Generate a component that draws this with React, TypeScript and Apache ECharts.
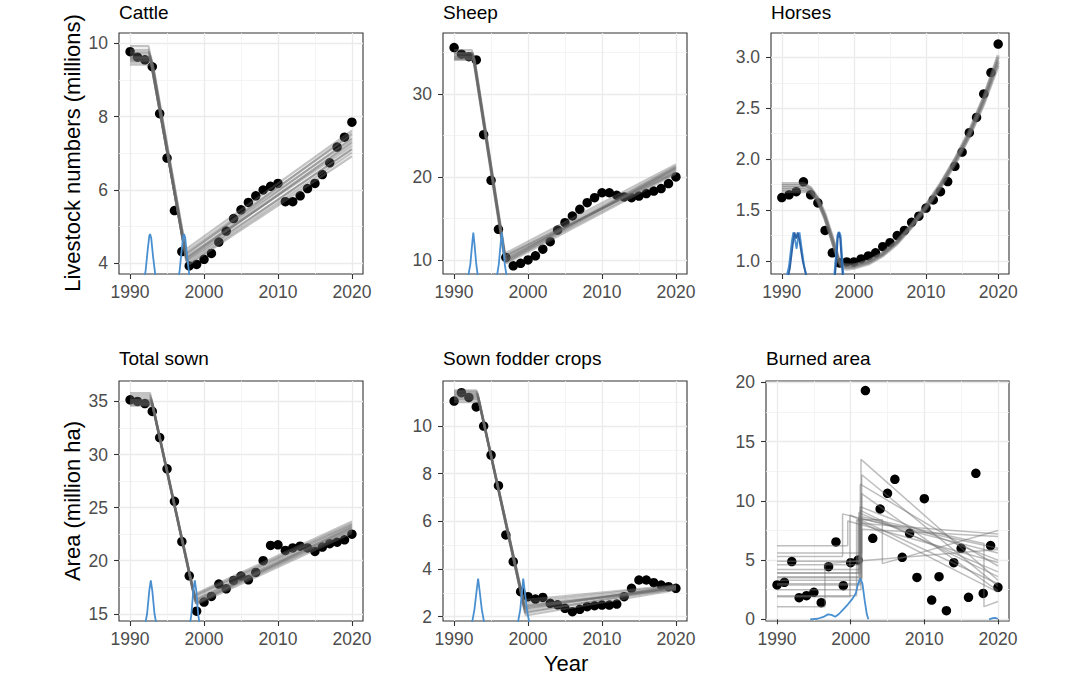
import React, { useEffect, useRef } from "react";
import * as echarts from "echarts";

const FONT = '"Liberation Sans", Arial, Helvetica, sans-serif';

// ---------------- data ----------------
const years = [1990, 1991, 1992, 1993, 1994, 1995, 1996, 1997, 1998, 1999, 2000, 2001, 2002, 2003, 2004, 2005, 2006, 2007, 2008, 2009, 2010, 2011, 2012, 2013, 2014, 2015, 2016, 2017, 2018, 2019, 2020];

const cattle = [9.77, 9.62, 9.55, 9.36, 8.08, 6.87, 5.44, 4.32, 3.93, 3.97, 4.11, 4.27, 4.58, 4.88, 5.22, 5.46, 5.66, 5.84, 6.0, 6.1, 6.18, 5.68, 5.68, 5.84, 6.04, 6.18, 6.42, 6.74, 7.17, 7.44, 7.85];
const sheep = [35.6, 34.8, 34.5, 34.1, 25.1, 19.6, 13.7, 10.3, 9.3, 9.6, 10.0, 10.5, 11.3, 12.2, 13.6, 14.5, 15.3, 16.1, 16.9, 17.5, 18.1, 18.1, 17.8, 17.6, 17.5, 17.7, 18.0, 18.3, 18.6, 19.2, 20.0];
const horses = [1.623, 1.65, 1.68, 1.777, 1.65, 1.57, 1.3, 1.08, 0.98, 0.99, 0.99, 1.02, 1.05, 1.08, 1.14, 1.18, 1.25, 1.3, 1.38, 1.44, 1.52, 1.6, 1.68, 1.78, 1.93, 2.07, 2.26, 2.41, 2.64, 2.85, 3.13];
const totalSown = [35.16, 35.0, 34.8, 34.06, 31.6, 28.66, 25.6, 21.8, 18.58, 15.25, 16.1, 16.63, 17.8, 17.35, 18.14, 18.55, 18.2, 18.9, 20.0, 21.44, 21.5, 20.97, 21.2, 21.37, 21.2, 20.87, 21.28, 21.6, 21.75, 21.97, 22.5];
const fodder = [11.05, 11.4, 11.2, 10.8, 10.0, 8.78, 7.5, 5.43, 4.31, 3.05, 2.84, 2.74, 2.81, 2.56, 2.5, 2.35, 2.21, 2.31, 2.42, 2.46, 2.49, 2.49, 2.53, 2.84, 3.19, 3.54, 3.54, 3.43, 3.33, 3.26, 3.19];
const burned = [2.9, 3.12, 4.87, 1.83, 2.0, 2.28, 1.41, 4.44, 6.53, 2.84, 4.78, 5.0, 19.3, 6.84, 9.31, 10.63, 11.81, 5.23, 7.26, 3.54, 10.18, 1.63, 3.6, 0.73, 4.78, 5.99, 1.86, 12.32, 2.19, 6.22, 2.7];

// posterior fit draws (vertices)
const cattleFits = [
  [[1990, 9.62], [1992.7, 9.62], [1997.6, 4.12], [2020, 7.28]],
  [[1990, 9.55], [1992.9, 9.55], [1997.7, 4.02], [2020, 7.12]],
  [[1990, 9.72], [1992.6, 9.72], [1997.5, 4.25], [2020, 7.38]],
  [[1990, 9.48], [1993.0, 9.48], [1997.8, 3.98], [2020, 7.02]],
  [[1990, 9.82], [1992.5, 9.82], [1997.5, 4.3], [2020, 7.5]],
  [[1990, 9.58], [1992.8, 9.58], [1997.6, 4.08], [2020, 7.32]],
  [[1990, 9.66], [1992.8, 9.66], [1997.7, 4.18], [2020, 7.2]],
  [[1990, 9.92], [1992.5, 9.92], [1997.4, 4.36], [2020, 7.62]],
  [[1990, 9.42], [1993.1, 9.42], [1997.9, 3.96], [2020, 6.92]],
  [[1990, 9.6], [1992.7, 9.6], [1997.6, 4.15], [2020, 7.42]],
  [[1990, 9.52], [1992.9, 9.52], [1997.6, 4.06], [2020, 7.1]],
  [[1990, 9.76], [1992.6, 9.76], [1997.5, 4.22], [2020, 7.55]],
];
const sheepFits = [
  [[1990, 34.6], [1992.6, 34.6], [1996.9, 10.1], [2020, 20.9]],
  [[1990, 34.3], [1992.7, 34.3], [1997.0, 9.8], [2020, 20.6]],
  [[1990, 35.0], [1992.5, 35.0], [1996.8, 10.4], [2020, 21.2]],
  [[1990, 34.1], [1992.8, 34.1], [1997.1, 9.6], [2020, 20.4]],
  [[1990, 35.3], [1992.4, 35.3], [1996.7, 10.7], [2020, 21.5]],
  [[1990, 34.5], [1992.6, 34.5], [1996.9, 10.0], [2020, 21.0]],
  [[1990, 34.8], [1992.6, 34.8], [1996.9, 10.3], [2020, 20.7]],
  [[1990, 34.4], [1992.7, 34.4], [1997.0, 9.9], [2020, 21.3]],
  [[1990, 34.9], [1992.5, 34.9], [1996.8, 10.5], [2020, 20.5]],
  [[1990, 34.2], [1992.7, 34.2], [1997.0, 9.7], [2020, 21.1]],
];
const horsesFits = [
  [[1990, 1.72], [1993.2, 1.72], [1994, 1.7], [1995, 1.61], [1996, 1.44], [1997, 1.21], [1997.8, 1.02], [1998.4, 0.95], [1999, 0.94], [2000, 0.95], [2002, 0.99], [2004, 1.07], [2006, 1.19], [2008, 1.35], [2010, 1.53], [2012, 1.74], [2014, 1.98], [2016, 2.25], [2018, 2.58], [2020, 2.97]],
  [[1990, 1.76], [1993.0, 1.76], [1994, 1.72], [1995, 1.62], [1996, 1.46], [1997, 1.24], [1997.8, 1.04], [1998.3, 0.97], [1999, 0.96], [2000, 0.96], [2002, 1.0], [2004, 1.08], [2006, 1.2], [2008, 1.36], [2010, 1.55], [2012, 1.76], [2014, 2.0], [2016, 2.28], [2018, 2.61], [2020, 3.02]],
  [[1990, 1.68], [1993.5, 1.68], [1994, 1.67], [1995, 1.59], [1996, 1.42], [1997, 1.19], [1997.9, 0.99], [1998.5, 0.93], [1999, 0.92], [2000, 0.93], [2002, 0.97], [2004, 1.05], [2006, 1.17], [2008, 1.33], [2010, 1.51], [2012, 1.72], [2014, 1.95], [2016, 2.22], [2018, 2.54], [2020, 2.92]],
  [[1990, 1.74], [1993.3, 1.74], [1994, 1.71], [1995, 1.6], [1996, 1.43], [1997, 1.22], [1997.8, 1.03], [1998.4, 0.96], [2000, 0.96], [2002, 1.0], [2004, 1.07], [2006, 1.19], [2008, 1.35], [2010, 1.54], [2012, 1.75], [2014, 1.99], [2016, 2.26], [2018, 2.6], [2020, 3.0]],
  [[1990, 1.7], [1993.1, 1.7], [1994, 1.68], [1995, 1.58], [1996, 1.41], [1997, 1.19], [1997.8, 1.0], [1998.3, 0.94], [2000, 0.94], [2002, 0.98], [2004, 1.06], [2006, 1.18], [2008, 1.34], [2010, 1.52], [2012, 1.73], [2014, 1.96], [2016, 2.23], [2018, 2.56], [2020, 2.95]],
];
const totalSownFits = [
  [[1990, 35.1], [1992.9, 35.1], [1998.8, 16.3], [2020, 23.1]],
  [[1990, 34.8], [1993.0, 34.8], [1998.9, 16.0], [2020, 22.8]],
  [[1990, 35.4], [1992.8, 35.4], [1998.7, 16.6], [2020, 23.4]],
  [[1990, 34.6], [1993.1, 34.6], [1999.0, 15.9], [2020, 22.6]],
  [[1990, 35.6], [1992.7, 35.6], [1998.6, 16.8], [2020, 23.7]],
  [[1990, 35.0], [1992.9, 35.0], [1998.8, 16.2], [2020, 23.0]],
  [[1990, 35.2], [1992.9, 35.2], [1998.8, 16.4], [2020, 23.3]],
  [[1990, 34.9], [1993.0, 34.9], [1998.9, 16.1], [2020, 22.9]],
  [[1990, 35.8], [1992.7, 35.8], [1998.7, 16.7], [2020, 23.5]],
  [[1990, 34.7], [1993.0, 34.7], [1998.9, 16.0], [2020, 23.2]],
];
const fodderFits = [
  [[1990, 11.3], [1993.2, 11.3], [1999.5, 2.4], [2020, 3.22]],
  [[1990, 11.1], [1993.3, 11.1], [1999.6, 2.2], [2020, 3.18]],
  [[1990, 11.45], [1993.1, 11.45], [1999.4, 2.6], [2020, 3.28]],
  [[1990, 11.0], [1993.4, 11.0], [1999.7, 2.05], [2020, 3.12]],
  [[1990, 11.5], [1993.0, 11.5], [1999.4, 2.7], [2020, 3.32]],
  [[1990, 11.25], [1993.2, 11.25], [1999.5, 2.35], [2020, 3.25]],
  [[1990, 11.35], [1993.2, 11.35], [1999.5, 2.5], [2020, 3.2]],
  [[1990, 11.2], [1993.3, 11.2], [1999.6, 2.3], [2020, 3.3]],
  [[1990, 11.4], [1993.1, 11.4], [1999.5, 2.45], [2020, 3.15]],
  [[1990, 11.15], [1993.3, 11.15], [1999.6, 2.15], [2020, 3.24]],
];
const burnedFits = [
  [[1990, 3.9], [2001.4, 3.9], [2001.4, 13.5], [2020, 3.3]],
  [[1990, 3.3], [2001.5, 3.3], [2001.5, 12.2], [2020, 2.8]],
  [[1990, 4.2], [2001.3, 4.2], [2001.3, 11.4], [2020, 4.5]],
  [[1990, 3.5], [2001.5, 3.5], [2001.5, 10.6], [2020, 2.4]],
  [[1990, 4.6], [2001.3, 4.6], [2001.3, 9.5], [2020, 5.0]],
  [[1990, 3.6], [2001.1, 3.6], [2001.1, 9.0], [2020, 4.0]],
  [[1990, 5.3], [1998.9, 5.3], [1998.9, 8.9], [2020, 5.6]],
  [[1990, 2.5], [2001.4, 2.5], [2001.4, 8.5], [2020, 6.0]],
  [[1990, 3.0], [2001.2, 3.0], [2001.2, 8.1], [2020, 7.2]],
  [[1990, 5.6], [2001.5, 5.6], [2001.5, 7.6], [2020, 7.0]],
  [[1990, 1.07], [1996.5, 1.07], [1996.5, 4.7], [2020, 5.9]],
  [[1990, 2.0], [2000.8, 2.0], [2000.8, 8.4], [2020, 2.3]],
  [[1990, 4.9], [2001.2, 4.9], [2001.2, 8.7], [2018.1, 6.4], [2018.1, 1.07], [2020, 1.5]],
  [[1990, 2.9], [2001.3, 2.9], [2001.3, 9.2], [2020, 3.6]],
  [[1990, 3.9], [2001.0, 3.9], [2001.0, 8.4], [2004.3, 8.4], [2004.3, 4.7], [2020, 7.5]],
  [[1990, 6.2], [1999.6, 6.2], [1999.6, 8.3], [2020, 4.8]],
  [[1990, 1.9], [1999.9, 1.9], [1999.9, 8.8], [2020, 3.0]],
];

// change-point posterior densities (blue)
const cattleDens = [
  [[1991.7, 3.3], [1992.1, 3.8], [1992.4, 4.4], [1992.6, 4.75], [1992.7, 4.8], [1992.85, 4.7], [1993.1, 4.2], [1993.4, 3.7], [1993.8, 3.3]],
  [[1996.3, 3.3], [1996.7, 3.8], [1997.0, 4.4], [1997.2, 4.75], [1997.3, 4.8], [1997.45, 4.7], [1997.7, 4.2], [1998.0, 3.7], [1998.4, 3.3]],
];
const sheepDens = [
  [[1991.8, 7.5], [1992.2, 9.5], [1992.45, 12.0], [1992.6, 13.3], [1992.75, 12.0], [1993.0, 9.5], [1993.3, 7.5]],
  [[1995.7, 7.5], [1996.05, 9.5], [1996.3, 12.0], [1996.45, 13.3], [1996.6, 12.0], [1996.85, 9.5], [1997.2, 7.5]],
];
const horsesDens = [
  [[1990.5, 0.8], [1991.0, 0.95], [1991.4, 1.2], [1991.6, 1.28], [1991.85, 1.2], [1992.05, 1.12], [1992.3, 1.25], [1992.45, 1.28], [1992.7, 1.15], [1993.1, 0.95], [1993.6, 0.8]],
  [[1990.7, 0.8], [1991.1, 0.92], [1991.5, 1.15], [1991.75, 1.28], [1992.0, 1.22], [1992.2, 1.28], [1992.45, 1.2], [1992.9, 1.0], [1993.4, 0.85], [1993.8, 0.8]],
  [[1997.2, 0.8], [1997.5, 1.05], [1997.7, 1.25], [1997.85, 1.28], [1998.0, 1.28], [1998.15, 1.25], [1998.35, 1.05], [1998.6, 0.8]],
  [[1997.3, 0.8], [1997.55, 1.0], [1997.75, 1.22], [1997.9, 1.28], [1998.1, 1.22], [1998.3, 1.0], [1998.5, 0.8]],
];
const totalSownDens = [
  [[1991.9, 13.5], [1992.3, 15.0], [1992.6, 17.2], [1992.8, 18.15], [1993.0, 17.2], [1993.3, 15.0], [1993.7, 13.5]],
  [[1998.0, 13.5], [1998.3, 15.0], [1998.55, 17.2], [1998.75, 18.15], [1998.95, 17.2], [1999.2, 15.0], [1999.5, 13.5]],
];
const fodderDens = [
  [[1992.4, 1.7], [1992.75, 2.3], [1993.05, 3.1], [1993.25, 3.6], [1993.45, 3.1], [1993.75, 2.3], [1994.1, 1.7]],
  [[1998.6, 1.7], [1998.95, 2.3], [1999.2, 3.1], [1999.35, 3.6], [1999.55, 3.1], [1999.85, 2.3], [2000.2, 1.7]],
];
const burnedDens = [
  [[1994.5, 0], [1995.5, 0.05], [1996.3, 0.2], [1996.9, 0.42], [1997.4, 0.38], [1997.9, 0.22], [1998.4, 0.45], [1999.0, 0.85], [1999.6, 1.25], [2000.2, 1.7], [2000.7, 2.2], [2001.0, 3.0], [2001.3, 3.45], [2001.6, 3.0], [2001.9, 1.6], [2002.2, 0.4], [2002.4, 0]],
  [[2018.8, 0], [2019.3, 0.1], [2019.6, 0.12], [2020.0, 0.05]],
];

// axes
const X_MIN = 1988.5;
const X_MAX = 2021.5;
const xMajor = [1990, 2000, 2010, 2020];
const xMinor = [1995, 2005, 2015];

const titles = ["Cattle", "Sheep", "Horses", "Total sown", "Sown fodder crops", "Burned area"];
const yRanges = [[3.71, 10.28], [8.31, 37.35], [0.872, 3.239], [14.32, 36.93], [1.82, 11.89], [-0.14, 20.11]];
const yMajors = [[4, 6, 8, 10], [10, 20, 30], [1.0, 1.5, 2.0, 2.5, 3.0], [15, 20, 25, 30, 35], [2, 4, 6, 8, 10], [0, 5, 10, 15, 20]];
const yMinors = [[5, 7, 9], [15, 25, 35], [1.25, 1.75, 2.25, 2.75], [17.5, 22.5, 27.5, 32.5], [3, 5, 7, 9, 11], [2.5, 7.5, 12.5, 17.5]];
const yDecimals = [0, 0, 1, 0, 0, 0];
const values = [cattle, sheep, horses, totalSown, fodder, burned];
const fits = [cattleFits, sheepFits, horsesFits, totalSownFits, fodderFits, burnedFits];
const dens = [cattleDens, sheepDens, horsesDens, totalSownDens, fodderDens, burnedDens];
const fitWidths = [2.2, 2.2, 3.2, 2.2, 2.2, 1.5];

// layout [left, top, width, height]
const boxes = [
  [119, 33, 244, 241],
  [443, 33, 244, 241],
  [771, 33, 238, 241],
  [119, 381, 244, 240],
  [443, 381, 244, 240],
  [766, 381, 243, 240],
];

function buildOption() {
  const grid: any[] = [];
  const xAxis: any[] = [];
  const yAxis: any[] = [];
  const series: any[] = [];
  const graphic: any[] = [];

  boxes.forEach((b, i) => {
    grid.push({
      left: b[0], top: b[1], width: b[2], height: b[3],
      show: true, borderColor: "#333333", borderWidth: 1.1, backgroundColor: "#ffffff",
    });
    const xi = xAxis.length;
    xAxis.push({
      type: "value", gridIndex: i, min: X_MIN, max: X_MAX, position: "bottom",
      axisLine: { show: false },
      axisTick: { show: true, customValues: xMajor, length: 5, lineStyle: { color: "#333333", width: 1.1 } },
      axisLabel: { show: true, customValues: xMajor, color: "#4d4d4d", fontSize: 17.5, fontFamily: FONT, margin: 9, formatter: (v: number) => String(v) },
      splitLine: { show: true, lineStyle: { color: "#ebebeb", width: 1.3 } },
    });
    xAxis.push({
      type: "value", gridIndex: i, min: X_MIN, max: X_MAX, position: "top",
      axisLine: { show: false },
      axisTick: { show: false, customValues: xMinor },
      axisLabel: { show: false, customValues: xMinor },
      splitLine: { show: true, lineStyle: { color: "#f1f1f1", width: 0.8 } },
    });
    const yi = yAxis.length;
    const dec = yDecimals[i];
    yAxis.push({
      type: "value", gridIndex: i, min: yRanges[i][0], max: yRanges[i][1], position: "left",
      axisLine: { show: false },
      axisTick: { show: true, customValues: yMajors[i], length: 5, lineStyle: { color: "#333333", width: 1.1 } },
      axisLabel: { show: true, customValues: yMajors[i], color: "#4d4d4d", fontSize: 17.5, fontFamily: FONT, margin: 11, formatter: (v: number) => v.toFixed(dec) },
      splitLine: { show: true, lineStyle: { color: "#ebebeb", width: 1.3 } },
    });
    yAxis.push({
      type: "value", gridIndex: i, min: yRanges[i][0], max: yRanges[i][1], position: "right",
      axisLine: { show: false },
      axisTick: { show: false, customValues: yMinors[i] },
      axisLabel: { show: false, customValues: yMinors[i] },
      splitLine: { show: true, lineStyle: { color: "#f1f1f1", width: 0.8 } },
    });

    series.push({
      type: "scatter", xAxisIndex: xi, yAxisIndex: yi, z: 2, silent: true,
      symbolSize: 9.5, itemStyle: { color: "#000000", opacity: 1 },
      data: years.map((y, k) => [y, values[i][k]]),
    });
    fits[i].forEach((f) => {
      series.push({
        type: "line", xAxisIndex: xi, yAxisIndex: yi, z: 3, silent: true,
        showSymbol: false, symbol: "none", clip: true,
        lineStyle: { color: i === 5 ? "rgba(110,110,110,0.45)" : "rgba(105,105,105,0.4)", width: fitWidths[i] },
        data: f,
      });
    });
    dens[i].forEach((d, k) => {
      const dark = i === 2 && k % 2 === 1;
      series.push({
        type: "line", xAxisIndex: xi, yAxisIndex: yi, z: 4, silent: true,
        showSymbol: false, symbol: "none", clip: true,
        lineStyle: { color: dark ? "#2c62a6" : "#4a90d0", width: 1.8 },
        data: d,
      });
    });

    graphic.push({
      type: "text", x: b[0], y: i < 3 ? 12 : 358.5,
      style: { text: titles[i], fontSize: 19, fontFamily: FONT, fill: "#000000", align: "left", verticalAlign: "middle" },
    });
  });

  graphic.push({
    type: "text", x: 72, y: 153, rotation: Math.PI / 2,
    style: { text: "Livestock numbers (millions)", fontSize: 22, fontFamily: FONT, fill: "#000000", align: "center", verticalAlign: "middle" },
  });
  graphic.push({
    type: "text", x: 72, y: 501, rotation: Math.PI / 2,
    style: { text: "Area (million ha)", fontSize: 22, fontFamily: FONT, fill: "#000000", align: "center", verticalAlign: "middle" },
  });
  graphic.push({
    type: "text", x: 566, y: 663,
    style: { text: "Year", fontSize: 22, fontFamily: FONT, fill: "#000000", align: "center", verticalAlign: "middle" },
  });

  return {
    animation: false,
    backgroundColor: "#ffffff",
    grid, xAxis, yAxis, series, graphic,
  };
}

export default function App() {
  const ref = useRef<HTMLDivElement>(null);
  useEffect(() => {
    if (!ref.current) return;
    const chart = echarts.init(ref.current, null, { renderer: "svg" });
    chart.setOption(buildOption() as any);
    return () => chart.dispose();
  }, []);
  return (
    <div
      ref={ref}
      style={{ position: "absolute", left: 0, top: 0, width: 1080, height: 675, background: "#ffffff" }}
    />
  );
}
